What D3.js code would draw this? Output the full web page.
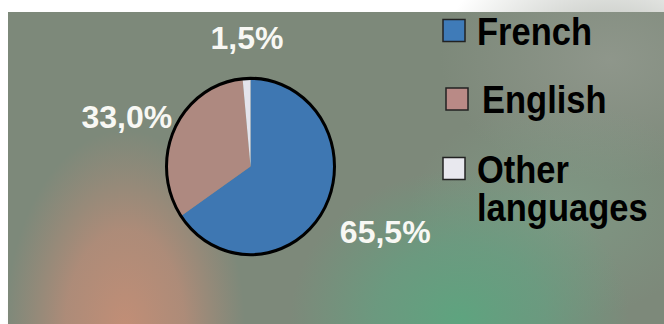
<!DOCTYPE html>
<html><head><meta charset="utf-8">
<script src="https://cdn.jsdelivr.net/npm/d3@7"></script>
<style>html,body{margin:0;padding:0;background:#fff;}svg{display:block;}</style>
</head><body>
<script>
const categories = ["French", "English", "Other languages"];
const shares = [65.5, 33.0, 1.5];
const shareLabels = ["65,5%", "33,0%", "1,5%"];
const legendLines = [["French"], ["English"], ["Other", "languages"]];

const W = 664, H = 324;
const colors = ["#3e77b2", "#ae8980", "#e4e4ec"];
const swatchColors = ["#3f7bb8", "#b98a86", "#e8e8ee"];
// layout: label distance from centre and small nudges
const labelR = 140;
const labelNudge = [[11, 0], [3, 10], [3, 11]];

const svg = d3.select("body").append("svg").attr("width", W).attr("height", H);
const defs = svg.append("defs");

function radial(id, stops) {
  const g = defs.append("radialGradient").attr("id", id);
  stops.forEach(s => g.append("stop").attr("offset", s[0]).attr("stop-color", s[1]).attr("stop-opacity", s[2]));
}
radial("pinkGlow", [[0, "#c28e76", 1], [0.5, "#b98c78", 0.8], [1, "#b08a78", 0]]);
radial("greenGlow", [[0, "#5ea47f", 1], [0.5, "#64a081", 0.7], [1, "#66a080", 0]]);
radial("greyGlow", [[0, "#969c92", 0.7], [1, "#969c92", 0]]);
radial("greenGlow2", [[0, "#80a48c", 0.55], [1, "#80a48c", 0]]);

const bg = svg.append("g");
bg.append("rect").attr("x", 8).attr("y", 12).attr("width", W - 8).attr("height", H - 12).attr("fill", "#7d897a");
bg.append("ellipse").attr("cx", 610).attr("cy", 60).attr("rx", 170).attr("ry", 120).attr("fill", "url(#greyGlow)");
bg.append("ellipse").attr("cx", 560).attr("cy", 210).attr("rx", 150).attr("ry", 110).attr("fill", "url(#greenGlow2)");
bg.append("ellipse").attr("cx", 125).attr("cy", 330).attr("rx", 120).attr("ry", 200).attr("fill", "url(#pinkGlow)");
bg.append("ellipse").attr("cx", 460).attr("cy", 320).attr("rx", 170).attr("ry", 150).attr("fill", "url(#greenGlow)");

// Pie
const cx = 250.5, cy = 166.5, r = 84;
const pieG = svg.append("g").attr("transform", `translate(${cx},${cy}) scale(1,1.05)`);
const pie = d3.pie().sort(null).value(d => d)(shares);
const arc = d3.arc().innerRadius(0).outerRadius(r);
const labelArc = d3.arc().innerRadius(labelR).outerRadius(labelR);
pieG.selectAll("path.slice").data(pie).join("path")
  .attr("class", "slice").attr("d", arc).attr("fill", (d, i) => colors[i]);
pieG.append("circle").attr("r", r).attr("fill", "none").attr("stroke", "#000").attr("stroke-width", 3);

// Labels
const labG = svg.append("g").attr("transform", `translate(${cx},${cy})`);
labG.selectAll("text").data(pie).join("text")
  .attr("x", (d, i) => labelArc.centroid(d)[0] + labelNudge[i][0])
  .attr("y", (d, i) => labelArc.centroid(d)[1] + labelNudge[i][1])
  .attr("text-anchor", "middle").attr("dominant-baseline", "central")
  .attr("font-family", "'Liberation Sans', Arial, sans-serif").attr("font-weight", "bold")
  .attr("font-size", 32).attr("fill", "#f8f8f4")
  .text((d, i) => shareLabels[i]);

// Legend
const legendY = [30.5, 99, 168.5];
const legendX = [443, 446, 443];
const leg = svg.append("g");
categories.forEach((c, i) => {
  const g = leg.append("g").attr("transform", `translate(${legendX[i]},${legendY[i]})`);
  g.append("rect").attr("x", 0).attr("y", -11).attr("width", 22).attr("height", 22)
    .attr("fill", swatchColors[i]).attr("stroke", "#222").attr("stroke-width", 1.5);
  const t = g.append("text").attr("font-family", "'Liberation Sans', Arial, sans-serif")
    .attr("font-weight", "bold").attr("font-size", 34.5).attr("fill", "#000")
    .attr("transform", "translate(" + (i === 1 ? 36 : 34) + ",0) scale(1,1.1)");
  legendLines[i].forEach((ln, j) => {
    t.append("tspan").attr("x", 0).attr("y", 13 + j * 34.5).text(ln);
  });
});
</script>
</body></html>
